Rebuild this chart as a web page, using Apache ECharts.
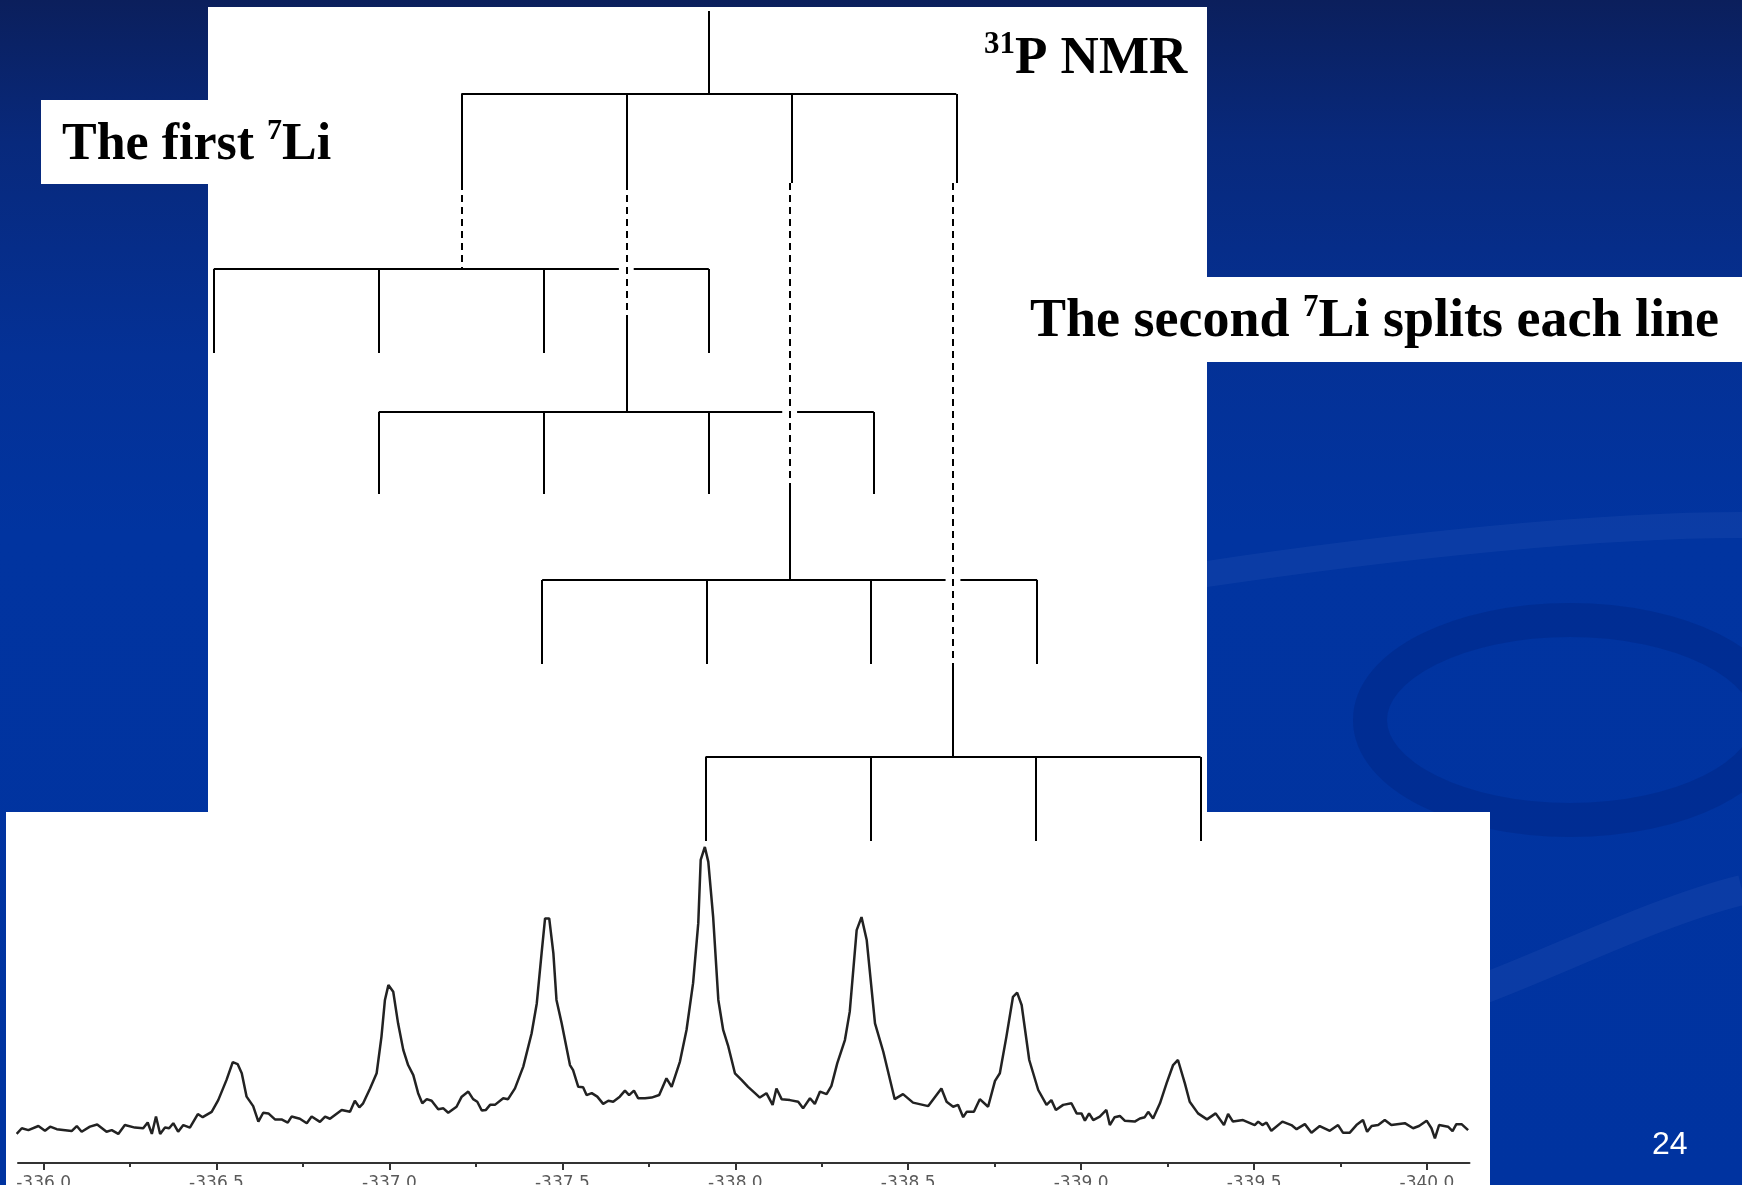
<!DOCTYPE html>
<html>
<head>
<meta charset="utf-8">
<script src="https://cdn.jsdelivr.net/npm/echarts@6/dist/echarts.min.js"></script>
<style>
html,body{margin:0;padding:0;width:1742px;height:1185px;overflow:hidden;background:#0a2a7a;}
#chart{width:1742px;height:1185px;}
</style>
</head>
<body>
<div id="chart"></div>
<script>
// ---- Spectrum (31P NMR) ----
const ppmValues = [
-335.922,-335.937,-335.956,-335.985,-336.004,-336.019,-336.038,-336.081,-336.096,-336.110,
-336.134,-336.155,-336.182,-336.197,-336.216,-336.235,-336.264,-336.288,-336.301,-336.313,
-336.325,-336.337,-336.351,-336.363,-336.375,-336.389,-336.404,-336.423,-336.446,-336.460,
-336.486,-336.505,-336.529,-336.547,-336.561,-336.573,-336.587,-336.606,-336.621,-336.635,
-336.650,-336.669,-336.688,-336.706,-336.717,-336.741,-336.761,-336.775,-336.799,-336.814,
-336.828,-336.862,-336.886,-336.900,-336.913,-336.924,-336.944,-336.963,-336.977,-336.987,
-336.997,-337.011,-337.025,-337.040,-337.054,-337.069,-337.083,-337.095,-337.108,-337.122,
-337.141,-337.156,-337.170,-337.194,-337.209,-337.228,-337.242,-337.254,-337.267,-337.279,
-337.291,-337.305,-337.329,-337.343,-337.363,-337.387,-337.411,-337.426,-337.440,-337.450,
-337.462,-337.474,-337.483,-337.498,-337.522,-337.531,-337.546,-337.560,-337.570,-337.585,
-337.601,-337.618,-337.633,-337.647,-337.666,-337.681,-337.693,-337.707,-337.719,-337.739,
-337.758,-337.780,-337.801,-337.816,-337.840,-337.859,-337.878,-337.893,-337.900,-337.912,
-337.922,-337.936,-337.951,-337.965,-337.980,-337.999,-338.018,-338.037,-338.057,-338.071,
-338.090,-338.108,-338.119,-338.134,-338.158,-338.182,-338.196,-338.216,-338.230,-338.245,
-338.264,-338.278,-338.295,-338.317,-338.331,-338.351,-338.365,-338.380,-338.404,-338.428,
-338.461,-338.485,-338.514,-338.558,-338.596,-338.611,-338.630,-338.644,-338.659,-338.669,
-338.690,-338.707,-338.731,-338.751,-338.765,-338.784,-338.803,-338.815,-338.828,-338.850,
-338.876,-338.900,-338.914,-338.927,-338.948,-338.972,-338.987,-339.001,-339.011,-339.023,
-339.035,-339.054,-339.073,-339.083,-339.097,-339.112,-339.126,-339.155,-339.170,-339.184,
-339.194,-339.208,-339.228,-339.247,-339.266,-339.280,-339.300,-339.314,-339.338,-339.364,
-339.389,-339.413,-339.425,-339.439,-339.468,-339.502,-339.512,-339.524,-339.536,-339.550,
-339.582,-339.608,-339.623,-339.647,-339.666,-339.690,-339.719,-339.743,-339.757,-339.777,
-339.796,-339.815,-339.827,-339.840,-339.859,-339.878,-339.897,-339.936,-339.960,-339.977,
-339.999,-340.013,-340.023,-340.035,-340.061,-340.074,-340.085,-340.100,-340.119
];
const intensityValues = [
9.2,11.0,10.4,11.7,10.2,11.5,10.7,10.1,11.7,9.9,
11.5,12.2,9.9,10.4,9.2,12.0,11.2,11.0,12.8,9.2,
14.7,9.2,11.2,11.0,12.6,9.9,12.0,11.2,15.5,14.5,
16.2,19.9,26.3,31.9,31.3,28.4,21.0,18.0,13.1,15.9,
15.7,13.8,13.8,12.8,14.7,14.0,12.6,14.7,13.0,14.7,
14.0,16.8,16.2,19.7,17.6,18.9,23.6,28.4,40.0,51.6,
56.3,54.2,44.2,35.8,31.0,27.8,22.1,18.9,20.2,19.7,
17.0,17.3,15.9,17.8,21.0,22.6,20.2,19.4,16.6,16.8,
18.4,18.4,20.5,20.2,23.6,30.5,41.0,50.5,66.4,77.4,
77.4,66.4,51.6,44.2,31.0,29.4,24.1,24.0,21.5,22.1,
21.0,18.7,19.7,19.4,21.0,22.9,21.5,22.9,20.5,20.5,
20.7,21.5,26.8,24.1,32.1,42.1,56.9,75.9,95.9,100.0,
95.3,77.9,51.6,42.1,36.8,28.4,26.3,24.1,22.1,20.7,
22.1,18.4,23.6,20.2,19.9,19.4,17.3,20.5,18.7,22.6,
21.8,24.4,31.6,38.9,47.9,73.7,77.8,70.6,44.2,35.2,
20.2,21.8,19.1,18.0,23.6,19.4,17.8,18.4,14.5,16.2,
16.2,20.2,17.8,26.0,28.4,40.0,52.6,53.9,50.0,32.6,
23.1,18.4,19.9,16.8,18.4,18.9,15.7,15.7,13.4,15.7,
13.6,14.7,16.8,12.0,14.5,14.9,13.4,13.1,14.1,14.5,
16.2,14.1,18.9,25.2,31.0,32.6,25.2,19.4,15.7,13.8,
15.7,12.0,15.5,13.1,13.6,12.0,13.1,12.0,12.8,10.2,
13.1,12.0,10.7,12.3,9.6,11.7,10.2,12.0,9.6,9.6,
12.0,13.6,9.9,11.7,12.0,13.6,12.0,12.6,11.0,11.7,
13.4,11.0,7.8,12.0,11.5,10.1,12.3,12.3,10.4
];
const majorTicks = [-336.0,-336.5,-337.0,-337.5,-338.0,-338.5,-339.0,-339.5,-340.0];
const minorTicks = [-336.25,-336.75,-337.25,-337.75,-338.25,-338.75,-339.25,-339.75];

// ---- Splitting tree (x in units of the coupling J, y = depth) ----
const levelCenters = [0, -1.5, -0.5, 0.49, 1.48];
const levelLegs = [
  [-1.5, -0.5, 0.5, 1.5],
  [-3, -2, -1, 0],
  [-2, -1, 0, 1],
  [-1.01, -0.01, 0.98, 1.99],
  [-0.02, 0.98, 1.98, 2.98]
];
const levelBarDepth = [83, 258, 401, 569, 746];
const levelLegEnd   = [172, 342, 483, 653, 830];
const dashedEndDepth = [0, 258, 309, 478, 656];   // where the dashed link becomes solid
const stemTopDepth = 0;

// build tree segments
const solidSegs = [], dashedSegs = [];
solidSegs.push([[levelCenters[0], stemTopDepth],[levelCenters[0], levelBarDepth[0]]]);
for (let i = 0; i < levelLegs.length; i++) {
  const legs = levelLegs[i];
  const lo = Math.min(...legs), hi = Math.max(...legs);
  const gaps = [];
  for (let j = i + 1; j < levelLegs.length; j++) {
    const c = levelCenters[j];
    if (dashedEndDepth[j] > levelBarDepth[i] && levelLegEnd[0] < levelBarDepth[i] && c > lo && c < hi) gaps.push(c);
  }
  gaps.sort((a,b)=>a-b);
  let start = lo;
  gaps.forEach(g => { solidSegs.push([[start, levelBarDepth[i]],[g - 0.045, levelBarDepth[i]]]); start = g + 0.045; });
  solidSegs.push([[start, levelBarDepth[i]],[hi, levelBarDepth[i]]]);
  legs.forEach(u => solidSegs.push([[u, levelBarDepth[i]],[u, levelLegEnd[i]]]));
  if (i > 0) {
    const c = levelCenters[i];
    dashedSegs.push([[c, levelLegEnd[0]],[c, dashedEndDepth[i]]]);
    if (dashedEndDepth[i] < levelBarDepth[i]) solidSegs.push([[c, dashedEndDepth[i]],[c, levelBarDepth[i]]]);
  }
}

const chart = echarts.init(document.getElementById('chart'), null, {renderer: 'canvas'});
const W = 1742, H = 1185;
const serif = '"Liberation Serif", "Times New Roman", serif';
const richStyles = (mainSize, supSize) => ({
  sup: {fontFamily: serif, fontWeight: 'bold', fontSize: supSize, lineHeight: 44, verticalAlign: 'top', fill: '#000'},
  m: {fontFamily: serif, fontWeight: 'bold', fontSize: mainSize, lineHeight: 60, fill: '#000'}
});

const option = {
  animation: false,
  graphic: { elements: [
    { type: 'rect', z: -10, shape: {x: 0, y: 0, width: W, height: H},
      style: { fill: new echarts.graphic.LinearGradient(0, 0, 0, 1, [
        {offset: 0, color: '#0b1f5c'}, {offset: 0.12, color: '#08297c'},
        {offset: 0.3, color: '#043196'}, {offset: 0.45, color: '#0134a0'}, {offset: 1, color: '#0033a0'}]) } },
    // faint background swooshes
    { type: 'ellipse', z: -10, shape: {cx: 1570, cy: 720, rx: 200, ry: 100},
      style: { fill: 'none', stroke: 'rgba(0,25,100,0.22)', lineWidth: 34 } },
    { type: 'bezierCurve', z: -10, shape: {x1: 1200, y1: 575, x2: 1742, y2: 525, cpx1: 1400, cpy1: 545, cpx2: 1600, cpy2: 525},
      style: { fill: 'none', stroke: 'rgba(60,100,190,0.18)', lineWidth: 26 } },
    { type: 'bezierCurve', z: -10, shape: {x1: 1480, y1: 990, x2: 1742, y2: 890, cpx1: 1560, cpy1: 960, cpx2: 1660, cpy2: 910},
      style: { fill: 'none', stroke: 'rgba(60,100,190,0.18)', lineWidth: 30 } },
    { type: 'rect', z: -9, shape: {x: 208, y: 7, width: 999, height: 806}, style: {fill: '#ffffff'} },
    { type: 'rect', z: -9, shape: {x: 41, y: 100, width: 168, height: 84}, style: {fill: '#ffffff'} },
    { type: 'rect', z: -9, shape: {x: 1207, y: 277, width: 535, height: 85}, style: {fill: '#ffffff'} },
    { type: 'rect', z: -9, shape: {x: 6, y: 812, width: 1484, height: 373}, style: {fill: '#ffffff'} },
    { type: 'text', z: -8, x: 984, y: 29,
      style: { text: '{sup|31}{m|P NMR}', fill: '#000', rich: richStyles(53, 31) } },
    { type: 'text', z: -8, x: 62, y: 116,
      style: { text: '{m|The first }{sup|7}{m|Li}', fill: '#000', rich: richStyles(52, 30) } },
    { type: 'text', z: -8, x: 1030, y: 292,
      style: { text: '{m|The second }{sup|7}{m|Li splits each line}', fill: '#000', rich: richStyles(54, 31) } },
    { type: 'text', z: -8, x: 1652, y: 1129,
      style: { text: '24', fill: '#ffffff', font: '32px "Liberation Sans", Arial, sans-serif' } }
  ]},
  grid: [
    { left: 18, right: W - 1469.5, top: 847, bottom: H - 1163, containLabel: false, outerBoundsMode: 'none' },
    { left: 213.8, right: W - 1203.8, top: 11, bottom: H - 841, containLabel: false, outerBoundsMode: 'none' }
  ],
  xAxis: [
    { type: 'value', gridIndex: 0, position: 'bottom', min: -340.123, max: -335.926, inverse: true,
      axisLine: {show: true, onZero: false, lineStyle: {color: '#333', width: 2}},
      axisTick: {show: true, customValues: majorTicks, length: 7, lineStyle: {color: '#333', width: 2}},
      axisLabel: {show: true, customValues: majorTicks, formatter: v => v.toFixed(1), color: '#5a5a5a',
                  fontSize: 17, fontFamily: '"DejaVu Sans", Verdana, sans-serif', margin: 12},
      splitLine: {show: false} },
    { type: 'value', gridIndex: 0, position: 'bottom', min: -340.123, max: -335.926, inverse: true,
      axisLine: {show: false, onZero: false},
      axisTick: {show: true, customValues: minorTicks, length: 4, lineStyle: {color: '#333', width: 2}},
      axisLabel: {show: false}, splitLine: {show: false} },
    { type: 'value', gridIndex: 1, min: -3, max: 3, show: false }
  ],
  yAxis: [
    { type: 'value', gridIndex: 0, min: 0, max: 100, show: false },
    { type: 'value', gridIndex: 1, min: 0, max: 830, inverse: true, show: false }
  ],
  series: [
    { type: 'line', xAxisIndex: 0, yAxisIndex: 0, showSymbol: false, symbol: 'none', silent: true,
      data: ppmValues.map((p, i) => [p, intensityValues[i]]),
      lineStyle: {color: '#222', width: 2.5}, clip: false },
    { type: 'lines', coordinateSystem: 'cartesian2d', xAxisIndex: 2, yAxisIndex: 1, silent: true, clip: false,
      data: solidSegs.map(c => ({coords: c})),
      lineStyle: {color: '#000', width: 2, opacity: 1, curveness: 0, type: 'solid'} },
    { type: 'lines', coordinateSystem: 'cartesian2d', xAxisIndex: 2, yAxisIndex: 1, silent: true, clip: false,
      data: dashedSegs.map(c => ({coords: c})),
      lineStyle: {color: '#000', width: 2, opacity: 1, curveness: 0, type: [7, 5]} }
  ]
};
chart.setOption(option);
</script>
</body>
</html>
